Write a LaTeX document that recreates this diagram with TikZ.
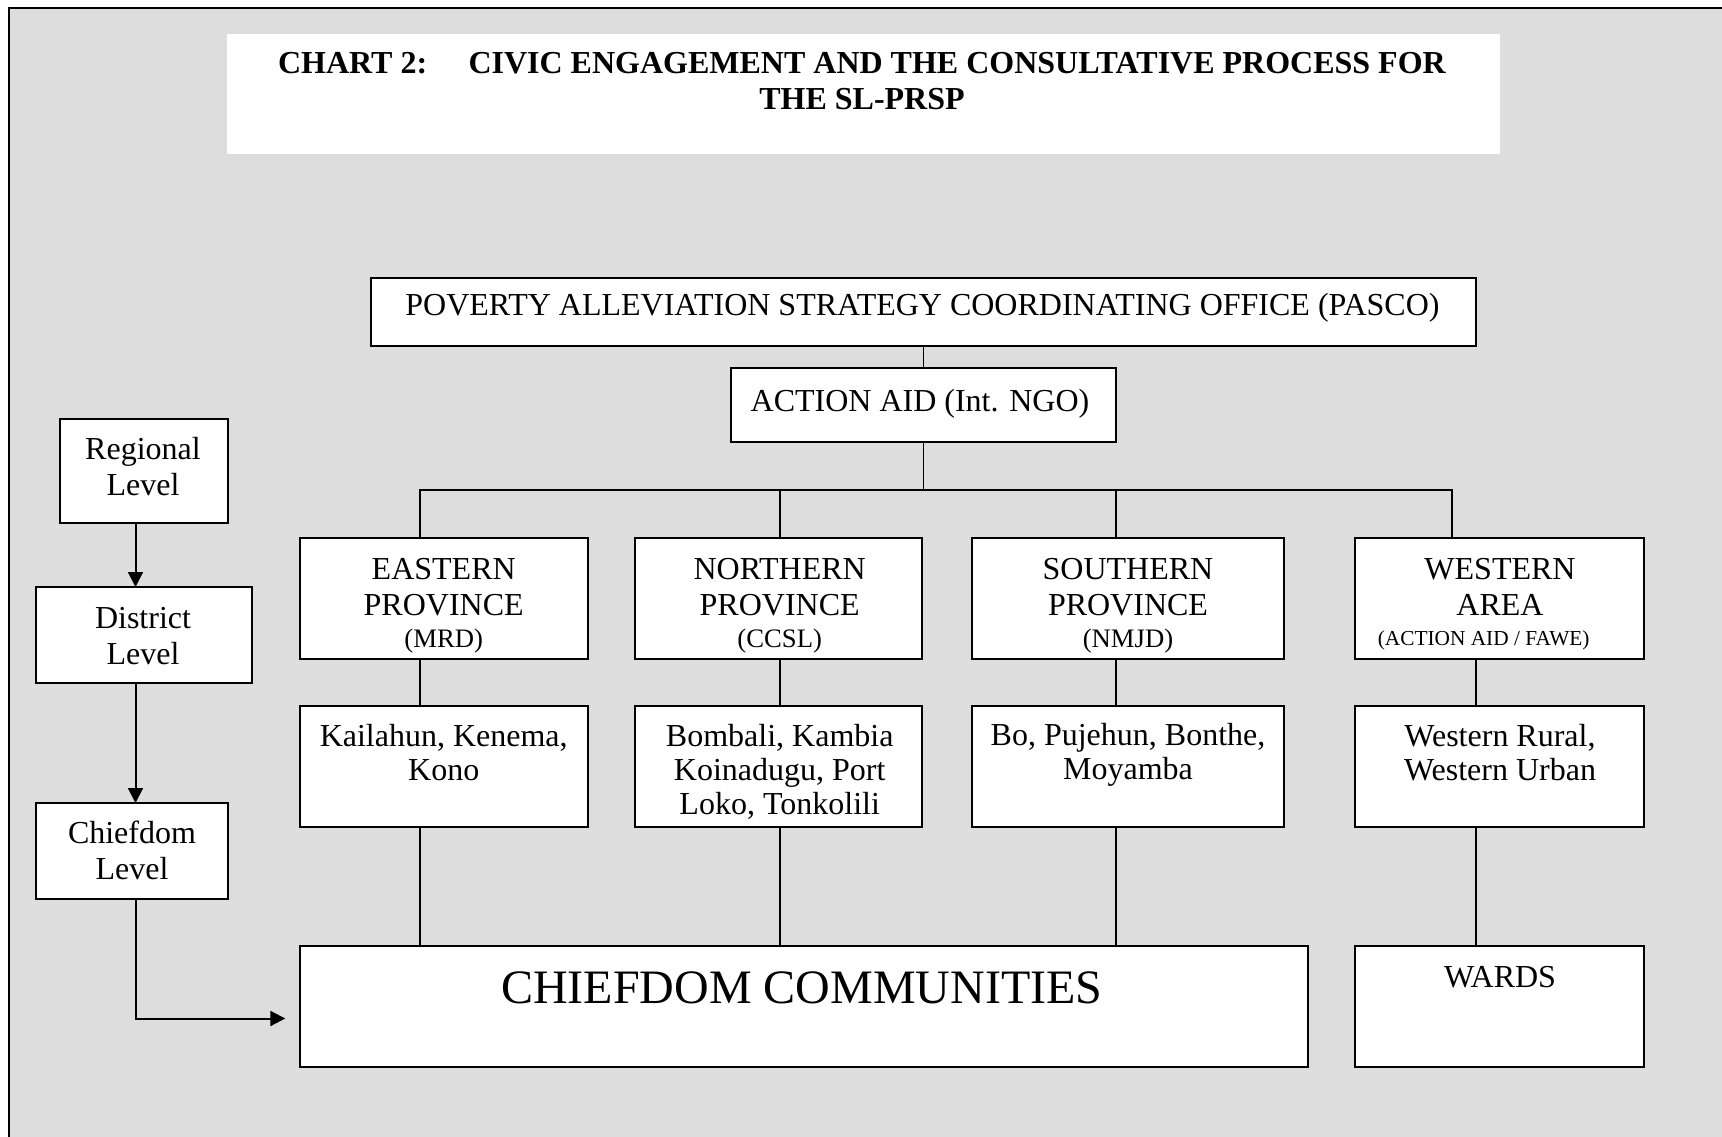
\documentclass[tikz,border=0pt]{standalone}
\usepackage{fontspec}
\setmainfont{Liberation Serif}
\usetikzlibrary{arrows.meta,fit}
\definecolor{bg}{RGB}{221,221,221}
\begin{document}
\begin{tikzpicture}[x=0.375pt,y=-0.375pt,
  box/.style={draw=black,fill=white,line width=0.6pt,inner sep=0pt,outer sep=0pt},
  plain/.style={fill=white,inner sep=0pt,outer sep=0pt},
  txt/.style={inner sep=0pt,align=center,font=\fontsize{12}{13.5}\selectfont},
  ltxt/.style={inner sep=0pt,align=center,font=\fontsize{12}{12.75}\selectfont},
  sub/.style={inner sep=0pt,font=\fontsize{10}{12}\selectfont},
  tiny/.style={inner sep=0pt,font=\fontsize{8}{10}\selectfont},
  ttl/.style={inner sep=0pt,align=center,font=\fontsize{12}{13.5}\selectfont\bfseries},
  big/.style={inner sep=0pt,font=\fontsize{18}{21}\selectfont},
  conn/.style={line width=0.5pt},
  arr/.style={line width=0.75pt,-{Triangle[length=5.6pt,width=5.6pt]}}]
\useasboundingbox (0,0) rectangle (1722,1137);
\fill[white] (0,0) rectangle (1722,1137);
\fill[bg] (9,8) rectangle (1722,1137);
\draw[line width=0.8pt] (9,1137) -- (9,8) -- (1722,8);

% title
\node[plain,fit={(227,34)(1500,154)}] (titlebox) {};
\node[ttl] (title) at (862,81) {CHART 2:\hspace{15.5pt}CIVIC ENGAGEMENT AND THE CONSULTATIVE PROCESS FOR\\THE SL-PRSP};

% boxes
\node[box,fit={(371,278)(1476,346)}] (pasco) {};
\node[box,fit={(731,368)(1116,442)}] (aid) {};
\node[box,fit={(60,419)(228,523)}] (reg) {};
\node[box,fit={(36,587)(252,683)}] (dist) {};
\node[box,fit={(36,803)(228,899)}] (chief) {};
\node[box,fit={(300,538)(588,659)}] (east) {};
\node[box,fit={(635,538)(922,659)}] (north) {};
\node[box,fit={(972,538)(1284,659)}] (south) {};
\node[box,fit={(1355,538)(1644,659)}] (west) {};
\node[box,fit={(300,706)(588,827)}] (kail) {};
\node[box,fit={(635,706)(922,827)}] (bomb) {};
\node[box,fit={(972,706)(1284,827)}] (bo) {};
\node[box,fit={(1355,706)(1644,827)}] (wr) {};
\node[box,fit={(300,946)(1308,1067)}] (cc) {};
\node[box,fit={(1355,946)(1644,1067)}] (wards) {};

% texts
\node[txt] (pascot) at (922.5,308) {POVERTY ALLEVIATION STRATEGY COORDINATING OFFICE (PASCO)};
\node[txt] (aidt) at (920,404) {ACTION AID (Int. NGO)};
\node[txt] (regt) at (143,467) {Regional\\Level};
\node[txt] (distt) at (143,636) {District\\Level};
\node[txt] (chieft) at (132,850) {Chiefdom\\Level};
\node[txt] (eastt) at (443.7,587) {EASTERN\\PROVINCE};
\node[sub] (easts) at (443.7,641) {(MRD)};
\node[txt] (northt) at (779.7,587) {NORTHERN\\PROVINCE};
\node[sub] (norths) at (779.7,641) {(CCSL)};
\node[txt] (southt) at (1128,587) {SOUTHERN\\PROVINCE};
\node[sub] (souths) at (1128,641) {(NMJD)};
\node[txt] (westt) at (1500,587) {WESTERN\\AREA};
\node[tiny] (wests) at (1483.7,640) {(ACTION AID / FAWE)};
\node[ltxt] (kailt) at (443.7,753) {Kailahun, Kenema,\\Kono};
\node[ltxt] (bombt) at (779.7,772) {Bombali, Kambia\\Koinadugu, Port\\Loko, Tonkolili};
\node[ltxt] (bot) at (1128,755) {Bo, Pujehun, Bonthe,\\Moyamba};
\node[ltxt] (wrt) at (1500,753) {Western Rural,\\Western Urban};
\node[big] (cct) at (802,988) {CHIEFDOM COMMUNITIES};
\node[txt] (wardst) at (1500,977) {WARDS};

% tree connectors
\coordinate (ex) at (420,490);
\coordinate (nx) at (780,490);
\coordinate (sx) at (1116,490);
\coordinate (wx) at (1452,490);
\coordinate (wy) at (1476,490);
\draw[conn] (pasco.south) -- (aid.north);
\draw[conn] (aid.south) -- (aid.south |- ex);
\draw[conn] (ex |- east.north) -- (ex) -- (wx) -- (wx |- west.north);
\draw[conn] (nx) -- (nx |- north.north);
\draw[conn] (sx) -- (sx |- south.north);
\draw[conn] (ex |- east.south) -- (ex |- kail.north);
\draw[conn] (ex |- kail.south) -- (ex |- cc.north);
\draw[conn] (nx |- north.south) -- (nx |- bomb.north);
\draw[conn] (nx |- bomb.south) -- (nx |- cc.north);
\draw[conn] (sx |- south.south) -- (sx |- bo.north);
\draw[conn] (sx |- bo.south) -- (sx |- cc.north);
\draw[conn] (wy |- west.south) -- (wy |- wr.north);
\draw[conn] (wy |- wr.south) -- (wy |- wards.north);

% level arrows
\coordinate (ax) at (135.5,0);
\coordinate (ccin) at (285.3,1018.5);
\draw[arr] (ax |- reg.south) -- (ax |- dist.north);
\draw[arr] (ax |- dist.south) -- (ax |- chief.north);
\draw[arr] (ax |- chief.south) |- (ccin);
\end{tikzpicture}
\end{document}
